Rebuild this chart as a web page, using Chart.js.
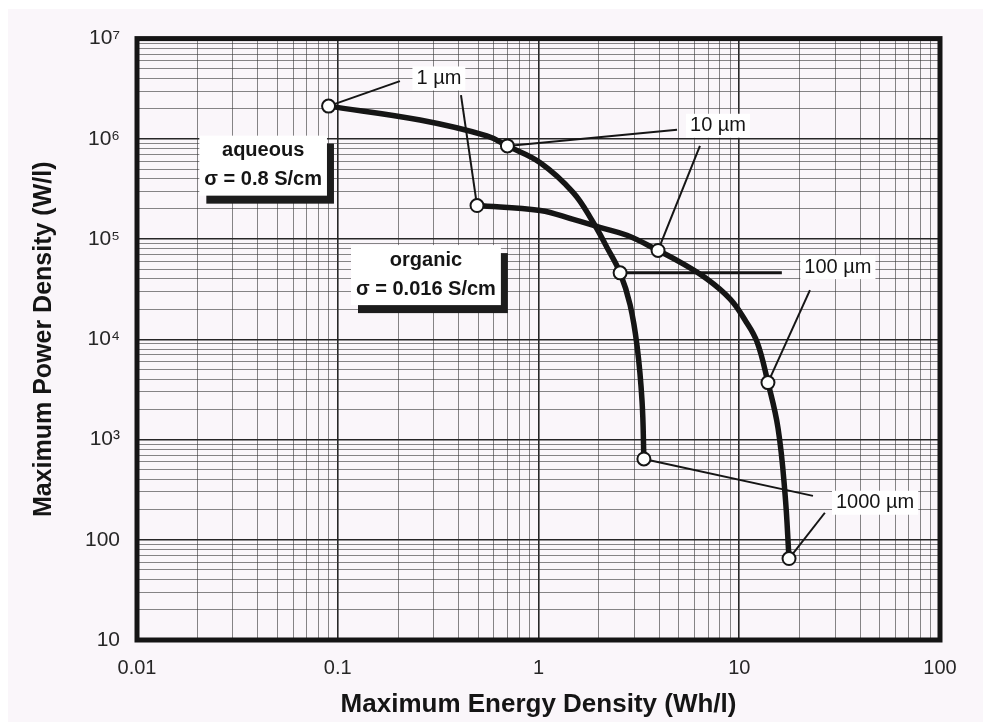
<!DOCTYPE html>
<html>
<head>
<meta charset="utf-8">
<script src="https://cdn.jsdelivr.net/npm/chart.js@4.4.1/dist/chart.umd.min.js"></script>
<style>
  html, body { margin: 0; background: #fff; }
  #panel { position: absolute; left: 8px; top: 9px; width: 975px; height: 713px; background: #faf6fa; }
</style>
</head>
<body>
<div id="panel"><canvas id="ragone" width="975" height="713"></canvas></div>
<script>
// electrode thickness at the marked points of each curve
const thickness = ['1 µm', '10 µm', '100 µm', '1000 µm'];

// aqueous electrolyte, sigma = 0.8 S/cm  (Wh/l, W/l)
const aqEnergy = [0.090, 0.257, 0.553, 0.70, 1.02, 1.49, 1.87, 2.19, 2.55, 2.86, 3.10, 3.28, 3.35];
const aqPower  = [2.12e6, 1.54e6, 1.07e6, 8.5e5, 5.78e5, 2.91e5, 1.47e5, 8.3e4, 4.6e4, 2.2e4, 8.45e3, 2.40e3, 640];
const aqMarks  = [0, 3, 8, 12];

// organic electrolyte, sigma = 0.016 S/cm
const orgEnergy = [0.494, 1.02, 1.49, 2.02, 2.76, 3.94, 5.07, 6.91, 8.99, 10.68, 12.25, 13.9, 15.6, 16.9, 17.7];
const orgPower  = [2.16e5, 1.93e5, 1.57e5, 1.31e5, 1.09e5, 7.7e4, 5.89e4, 3.99e4, 2.53e4, 1.56e4, 9.47e3, 3.7e3, 1.3e3, 290, 65];
const orgMarks  = [0, 5, 11, 14];

const energyTicks = ['0.01', '0.1', '1', '10', '100'];
const powerTicks  = ['10', '100', '10³', '10⁴', '10⁵', '10⁶', '10⁷'];

// thickness callouts: text position and start of the leader to each curve
const calloutAt     = [[0.319, 4.0e6], [7.84, 1.35e6], [31.0, 5.25e4], [47.5, 234]];
const aqLeaderFrom  = [[0.204, 3.76e6], [4.90, 1.23e6], [16.3, 4.6e4], [23.3, 274]];
const orgLeaderFrom = [[0.411, 2.73e6], [6.37, 8.53e5], [22.5, 3.1e4], [26.7, 186]];

const electrolytes  = [['aqueous', 'σ = 0.8 S/cm'], ['organic', 'σ = 0.016 S/cm']];
const electrolyteAt = [[0.0425, 5.4e5], [0.275, 4.37e4]];

const ink = '#151515';
const family = '"Liberation Sans", Arial, Helvetica, sans-serif';
Chart.defaults.font.family = family;

const isDecade = v => Math.abs(Math.log10(v) - Math.round(Math.log10(v))) < 1e-9;

// full log-paper grid: 1..9 in every decade
function logGrid(lo, hi) {
  const t = [];
  for (let e = lo; e < hi; e++) {
    for (let m = 1; m < 10; m++) t.push({value: Number((m * Math.pow(10, e)).toPrecision(6))});
  }
  t.push({value: Math.pow(10, hi)});
  return t;
}

const gridColor = c => c.tick && isDecade(c.tick.value) ? '#262626' : 'rgba(55,55,55,0.6)';
const gridWidth = c => c.tick && isDecade(c.tick.value) ? 1.6 : 1;

const annotations = {
  id: 'annotations',
  beforeDatasetsDraw(chart) {
    const {ctx, chartArea: a, scales: {x, y}} = chart;
    const px = p => [x.getPixelForValue(p[0]), y.getPixelForValue(p[1])];
    ctx.save();

    // heavy frame round the plot
    ctx.strokeStyle = ink;
    ctx.lineWidth = 5;
    ctx.strokeRect(a.left, a.top, a.right - a.left, a.bottom - a.top);

    // electrolyte boxes with a drop shadow
    ctx.font = 'bold 20px ' + family;
    ctx.textAlign = 'center';
    ctx.textBaseline = 'middle';
    electrolytes.forEach((lines, i) => {
      const [cx, cy] = px(electrolyteAt[i]);
      const w = Math.max(...lines.map(t => ctx.measureText(t).width)) + 10;
      const h = 60;
      ctx.fillStyle = '#1c1c1c';
      ctx.fillRect(cx - w / 2 + 7, cy - h / 2 + 8, w, h);
      ctx.fillStyle = '#fff';
      ctx.fillRect(cx - w / 2, cy - h / 2, w, h);
      ctx.fillStyle = ink;
      ctx.fillText(lines[0], cx, cy - 15);
      ctx.fillText(lines[1], cx, cy + 14);
    });

    // leaders from each thickness label to its two points
    ctx.strokeStyle = ink;
    thickness.forEach((_, i) => {
      const ends = [
        [aqLeaderFrom[i], [aqEnergy[aqMarks[i]], aqPower[aqMarks[i]]]],
        [orgLeaderFrom[i], [orgEnergy[orgMarks[i]], orgPower[orgMarks[i]]]]
      ];
      ends.forEach(([from, to], k) => {
        const p0 = px(from), p1 = px(to);
        ctx.lineWidth = (i === 2 && k === 0) ? 3 : 2;
        ctx.beginPath();
        ctx.moveTo(p0[0], p0[1]);
        ctx.lineTo(p1[0], p1[1]);
        ctx.stroke();
      });
    });

    ctx.font = '20px ' + family;
    thickness.forEach((t, i) => {
      const [cx, cy] = px(calloutAt[i]);
      const w = ctx.measureText(t).width + 8;
      ctx.fillStyle = '#fff';
      ctx.fillRect(cx - w / 2, cy - 12, w, 24);
      ctx.fillStyle = ink;
      ctx.fillText(t, cx, cy);
    });
    ctx.restore();
  }
};

function curve(energy, power, marks) {
  return {
    data: energy.map((e, i) => ({x: e, y: power[i]})),
    borderColor: ink,
    borderWidth: 5.5,
    tension: 0.4,
    pointRadius: energy.map((_, i) => marks.includes(i) ? 6.5 : 0),
    pointBackgroundColor: '#fff',
    pointBorderColor: ink,
    pointBorderWidth: 2
  };
}

new Chart(document.getElementById('ragone'), {
  type: 'line',
  data: {
    datasets: [
      curve(aqEnergy, aqPower, aqMarks),
      curve(orgEnergy, orgPower, orgMarks)
    ]
  },
  options: {
    responsive: false,
    animation: false,
    events: [],
    layout: {padding: {top: 25, right: 43, left: 0, bottom: 0}},
    plugins: {legend: {display: false}, tooltip: {enabled: false}},
    scales: {
      x: {
        type: 'logarithmic',
        min: 0.01,
        max: 100,
        afterBuildTicks: s => { s.ticks = logGrid(-2, 2); },
        afterFit: s => { s.height = 82; },
        border: {display: false},
        grid: {color: gridColor, lineWidth: gridWidth, drawTicks: false},
        ticks: {
          autoSkip: false,
          maxRotation: 0,
          padding: 16,
          color: '#262626',
          font: {size: 20},
          callback: v => isDecade(v) ? energyTicks[Math.round(Math.log10(v)) + 2] : ''
        },
        title: {
          display: true,
          text: 'Maximum Energy Density (Wh/l)',
          color: ink,
          font: {size: 26, weight: 'bold'},
          padding: {top: 0, bottom: 2}
        }
      },
      y: {
        type: 'logarithmic',
        min: 10,
        max: 1e7,
        afterBuildTicks: s => { s.ticks = logGrid(1, 7); },
        afterFit: s => { s.width = 129; },
        border: {display: false},
        grid: {color: gridColor, lineWidth: gridWidth, drawTicks: false},
        ticks: {
          autoSkip: false,
          padding: 17,
          color: '#262626',
          font: {size: 21},
          callback: v => isDecade(v) ? powerTicks[Math.round(Math.log10(v)) - 1] : ''
        },
        title: {
          display: true,
          text: 'Maximum Power Density (W/l)',
          color: ink,
          font: {size: 25, weight: 'bold'},
          padding: {top: 21, bottom: 0}
        }
      }
    }
  },
  plugins: [annotations]
});
</script>
</body>
</html>
